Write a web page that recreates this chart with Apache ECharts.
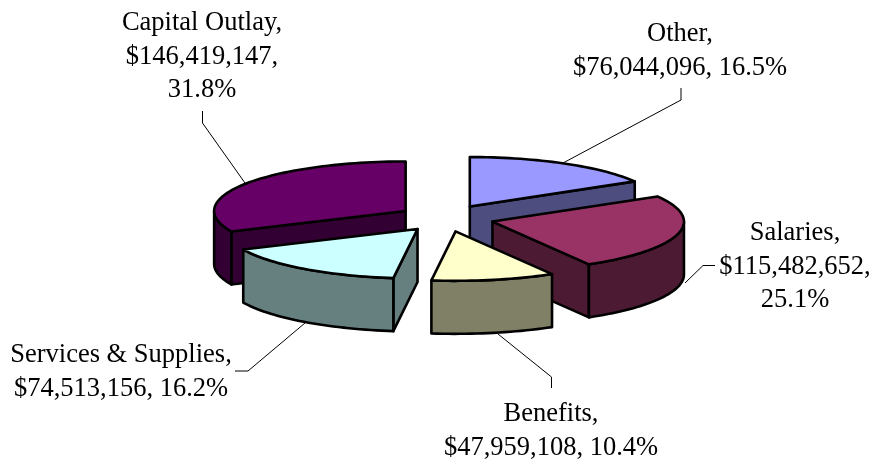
<!DOCTYPE html>
<html>
<head>
<meta charset="utf-8">
<title>Expenditures</title>
<script src="https://cdn.jsdelivr.net/npm/echarts@6/dist/echarts.min.js"></script>
<style>
html,body{margin:0;padding:0;background:#fff;}
#main{width:877px;height:461px;}
</style>
</head>
<body>
<div id="main"></div>
<script>
// data, clockwise from 12 o'clock
var categories = ['Other', 'Salaries', 'Benefits', 'Services & Supplies', 'Capital Outlay'];
var amounts = [76044096, 115482652, 47959108, 74513156, 146419147];

// colours
var topColors = ['#9999FF', '#993366', '#FFFFCC', '#CCFFFF', '#660066'];
var sideColors = ['#4D4D80', '#4D1A33', '#808066', '#668080', '#330033'];

// how each label breaks its lines: 0 = name, value, pct on three lines, 1 = value and pct together
var labelBreaks = [1, 0, 1, 1, 0];
var labelCenters = [[680, 51], [795, 267], [551, 431], [121, 372], [202, 57]];
var leaderLines = [
  [[681, 88], [681, 100], [563, 163]],
  [[715, 265.5], [703, 265.5], [685, 283]],
  [[551.5, 388], [551.5, 377], [498, 334]],
  [[235, 371], [248, 371], [305, 323]],
  [[202.5, 111], [202.5, 123], [245, 183]]
];

// fake 3d pie geometry
var cx = 446, cy = 218.2;
var rx = 191.5, ry = 49.5;
var depth = 53;
var explodeX = 48, explodeY = 13.4;
var drawOrder = [4, 0, 1, 3, 2]; // back to front
var fontFamily = '"Liberation Serif", "Times New Roman", serif';

var total = amounts.reduce(function (a, b) { return a + b; }, 0);

function money(v) {
  return '$' + String(v).replace(/\B(?=(\d{3})+(?!\d))/g, ',');
}

// start and end angle of every slice, in radians
var slices = [];
var sum = 0;
for (var i = 0; i < amounts.length; i++) {
  var a0 = sum / total * Math.PI * 2;
  sum += amounts[i];
  slices.push({ a0: a0, a1: sum / total * Math.PI * 2 });
}

function arcPoints(ox, oy, a0, a1) {
  var pts = [];
  var n = Math.max(2, Math.ceil((a1 - a0) / 0.03));
  for (var k = 0; k <= n; k++) {
    var t = a0 + (a1 - a0) * k / n;
    pts.push([ox + rx * Math.sin(t), oy - ry * Math.cos(t)]);
  }
  return pts;
}

function poly(points, fill) {
  return {
    type: 'polygon',
    shape: { points: points },
    style: { fill: fill, stroke: '#000', lineWidth: 2.6, lineJoin: 'round' }
  };
}

function wall(ox, oy, a, fill) {
  var x = ox + rx * Math.sin(a), y = oy - ry * Math.cos(a);
  return poly([[ox, oy], [x, y], [x, y + depth], [ox, oy + depth]], fill);
}

function renderSlice(params, api) {
  var idx = api.value(0);
  var s = slices[idx];
  var mid = (s.a0 + s.a1) / 2;
  var ox = cx + explodeX * Math.sin(mid);
  var oy = cy - explodeY * Math.cos(mid);
  var children = [];
  var side = sideColors[idx];

  // cut walls, only those turned to the viewer
  if (Math.cos(s.a0 - Math.PI / 2) < -0.001) children.push(wall(ox, oy, s.a0, side));
  if (Math.cos(s.a1 + Math.PI / 2) < -0.001) children.push(wall(ox, oy, s.a1, side));

  // rim, front half only
  var r0 = Math.max(s.a0, Math.PI / 2), r1 = Math.min(s.a1, Math.PI * 1.5);
  if (r1 > r0) {
    var upper = arcPoints(ox, oy, r0, r1);
    var lower = upper.map(function (p) { return [p[0], p[1] + depth]; }).reverse();
    children.push(poly(upper.concat(lower), side));
  }

  // top face
  children.push(poly([[ox, oy]].concat(arcPoints(ox, oy, s.a0, s.a1)), topColors[idx]));

  return { type: 'group', children: children };
}

function renderLabel(params, api) {
  var idx = api.value(0);
  var pct = (amounts[idx] / total * 100).toFixed(1) + '%';
  var text = labelBreaks[idx] === 0
    ? categories[idx] + ',\n' + money(amounts[idx]) + ',\n' + pct
    : categories[idx] + ',\n' + money(amounts[idx]) + ', ' + pct;
  return {
    type: 'group',
    children: [{
      type: 'polyline',
      shape: { points: leaderLines[idx] },
      style: { fill: null, stroke: '#000', lineWidth: 1 }
    }, {
      type: 'text',
      style: {
        x: labelCenters[idx][0],
        y: labelCenters[idx][1],
        text: text,
        fill: '#000',
        align: 'center',
        verticalAlign: 'middle',
        lineHeight: 33.5,
        font: '26.5px ' + fontFamily
      }
    }]
  };
}

var chart = echarts.init(document.getElementById('main'));
chart.setOption({
  animation: false,
  backgroundColor: '#fff',
  series: [{
    type: 'custom',
    coordinateSystem: 'none',
    renderItem: renderLabel,
    silent: true,
    z: 1,
    data: drawOrder.map(function (i) { return [i]; })
  }, {
    type: 'custom',
    coordinateSystem: 'none',
    renderItem: renderSlice,
    silent: true,
    z: 2,
    data: drawOrder.map(function (i) { return [i]; })
  }]
});
</script>
</body>
</html>
